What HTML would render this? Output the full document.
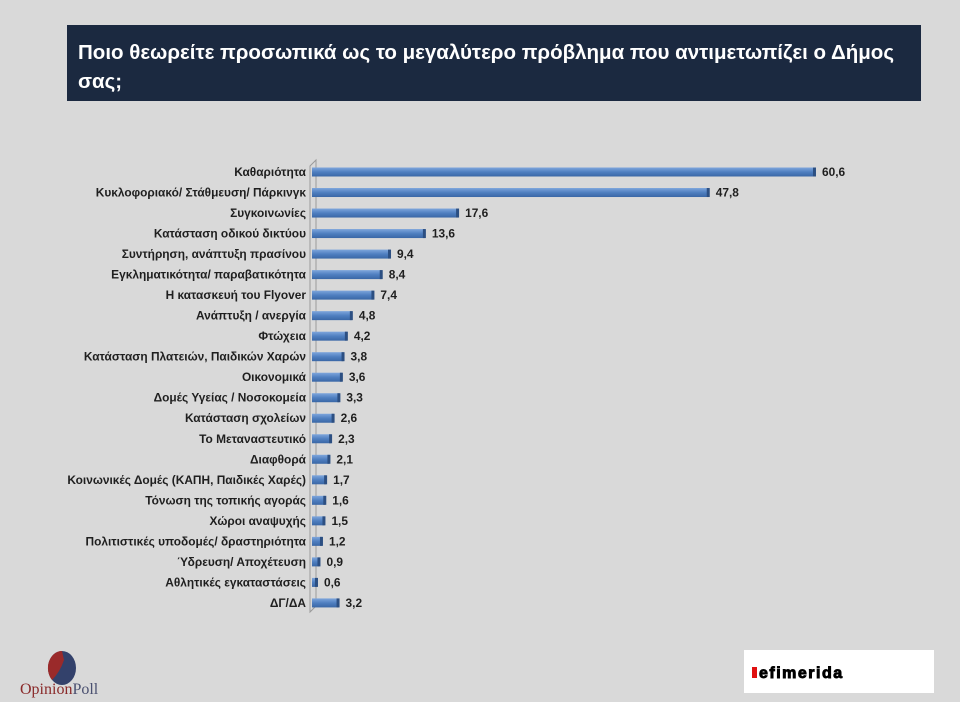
<!DOCTYPE html>
<html><head><meta charset="utf-8"><style>
html,body{margin:0;padding:0;background:#d9d9d9;}
svg{display:block;font-family:"Liberation Sans","DejaVu Sans",sans-serif;}
</style></head><body>
<svg width="960" height="702" viewBox="0 0 960 702">
<defs><linearGradient id="g" x1="0" y1="0" x2="0" y2="1">
<stop offset="0" stop-color="#7ea6dc"/><stop offset="0.5" stop-color="#4f7fc0"/><stop offset="1" stop-color="#3a67a6"/></linearGradient></defs>
<rect width="960" height="702" fill="#d9d9d9"/>
<rect x="67" y="25" width="854" height="76" fill="#1b2940"/>
<text x="78" y="59" fill="#fff" font-size="20.5" font-weight="bold">Ποιο θεωρείτε προσωπικά ως το μεγαλύτερο πρόβλημα που αντιμετωπίζει ο Δήμος</text>
<text x="78" y="88" fill="#fff" font-size="20.5" font-weight="bold">σας;</text>
<path d="M310 166 L316 160 L316 606 L310 612 Z" fill="none" stroke="#9a9a9a" stroke-width="1"/>
<g id="bars" font-size="11.9" font-weight="bold" fill="#1f1f1f"></g>
<g transform="translate(20,650)">
<ellipse cx="42" cy="18" rx="14" ry="17" fill="#33416b"/>
<path d="M42 1 A14 17 0 0 0 32 30 Q40 22 44 10 Z" fill="#9a2a2a"/>
<text x="0" y="44" font-family="Liberation Serif,serif" font-size="16" fill="#8a2a2a">Opinion<tspan fill="#4a5070">Poll</tspan></text>
</g>
<rect x="744" y="650" width="190" height="43" fill="#fff"/>
<rect x="752" y="667" width="5" height="11" fill="#e01010"/>
<text x="759" y="678" font-size="16" font-weight="900" fill="#000" stroke="#000" stroke-width="0.9" letter-spacing="1.5">efimerida</text>
</svg>
<script>
var d=[["Καθαριότητα",60.6],["Κυκλοφοριακό/ Στάθμευση/ Πάρκινγκ",47.8],["Συγκοινωνίες",17.6],["Κατάσταση οδικού δικτύου",13.6],["Συντήρηση, ανάπτυξη πρασίνου",9.4],["Εγκληματικότητα/ παραβατικότητα",8.4],["Η κατασκευή του Flyover",7.4],["Ανάπτυξη / ανεργία",4.8],["Φτώχεια",4.2],["Κατάσταση Πλατειών, Παιδικών Χαρών",3.8],["Οικονομικά",3.6],["Δομές Υγείας / Νοσοκομεία",3.3],["Κατάσταση σχολείων",2.6],["Το Μεταναστευτικό",2.3],["Διαφθορά",2.1],["Κοινωνικές Δομές (ΚΑΠΗ, Παιδικές Χαρές)",1.7],["Τόνωση της τοπικής αγοράς",1.6],["Χώροι αναψυχής",1.5],["Πολιτιστικές υποδομές/ δραστηριότητα",1.2],["Ύδρευση/ Αποχέτευση",0.9],["Αθλητικές εγκαταστάσεις",0.6],["ΔΓ/ΔΑ",3.2]];
var g=document.getElementById('bars'),s='';
d.forEach(function(r,i){var y=172+i*20.52,w=r[1]*8.3;
s+='<text x="306" y="'+(y+4)+'" text-anchor="end">'+r[0]+'</text>';
s+='<rect x="312" y="'+(y-4.5)+'" width="'+w+'" height="9" fill="url(#g)"/>';
s+='<rect x="'+(312+w-2)+'" y="'+(y-4.5)+'" width="3" height="9" fill="#2c4f82"/>';
s+='<text x="'+(312+w+7)+'" y="'+(y+4)+'">'+r[1].toFixed(1).replace('.',',')+'</text>';});
g.innerHTML=s;
</script>
</body></html>
